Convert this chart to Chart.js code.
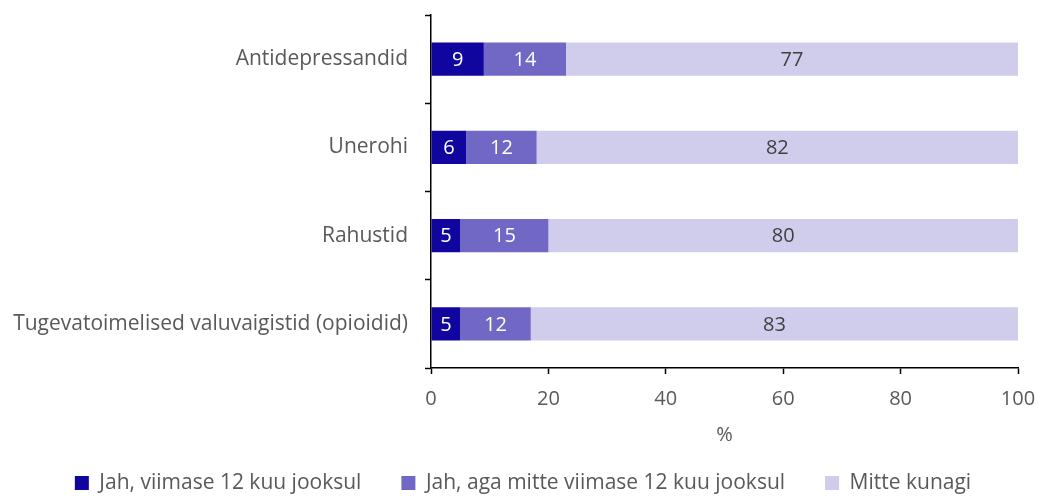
<!DOCTYPE html>
<html>
<head>
<meta charset="utf-8">
<script src="https://cdn.jsdelivr.net/npm/chart.js@4"></script>
<style>
  html, body { margin: 0; padding: 0; background: #fff; }
</style>
</head>
<body>
<canvas id="chart" width="1038" height="496"></canvas>
<script>
const categories = [
  'Antidepressandid',
  'Unerohi',
  'Rahustid',
  'Tugevatoimelised valuvaigistid (opioidid)'
];
const seriesNames = [
  'Jah, viimase 12 kuu jooksul',
  'Jah, aga mitte viimase 12 kuu jooksul',
  'Mitte kunagi'
];
const lastYear = [9, 6, 5, 5];
const notLastYear = [14, 12, 15, 12];
const never = [77, 82, 80, 83];
const xTicks = [0, 20, 40, 60, 80, 100];

const colors = ['#10069f', '#7068c4', '#cfcdeb'];
const labelColors = ['#ffffff', '#ffffff', '#404040'];
const fontFamily = '"Open Sans", sans-serif';
const textColor = '#595959';

// draw the value inside each bar segment
const barLabels = {
  id: 'barLabels',
  afterDatasetsDraw(chart) {
    const ctx = chart.ctx;
    ctx.save();
    ctx.font = '20px ' + fontFamily;
    ctx.textAlign = 'center';
    ctx.textBaseline = 'middle';
    chart.data.datasets.forEach((ds, i) => {
      const meta = chart.getDatasetMeta(i);
      meta.data.forEach((bar, j) => {
        const x = (bar.x + bar.base) / 2;
        ctx.fillStyle = labelColors[i];
        ctx.fillText(ds.data[j], x, bar.y + 1);
      });
    });
    ctx.restore();
  }
};

const datasets = [lastYear, notLastYear, never].map((values, i) => ({
  label: seriesNames[i],
  data: values,
  backgroundColor: colors[i],
  borderWidth: 0,
  barPercentage: 0.375,
  categoryPercentage: 1
}));

new Chart(document.getElementById('chart'), {
  type: 'bar',
  data: { labels: categories, datasets: datasets },
  options: {
    indexAxis: 'y',
    responsive: false,
    animation: false,
    layout: { padding: { top: 15, right: 0, left: 8, bottom: -7.5 } },
    scales: {
      x: {
        stacked: true,
        min: xTicks[0],
        max: xTicks[xTicks.length - 1],
        afterFit(scale) {
          scale.height = 64.5;
          scale.paddingLeft = 0;
          scale.paddingRight = 20;
        },
        afterBuildTicks(scale) {
          scale.ticks = xTicks.map(v => ({ value: v }));
        },
        ticks: {
          color: textColor,
          font: { family: fontFamily, size: 20 },
          padding: 13.5
        },
        grid: {
          drawOnChartArea: false,
          color: '#000',
          tickLength: 6,
          tickWidth: 1.5
        },
        border: { color: '#000', width: 1.5 },
        title: {
          display: true,
          text: '%',
          color: textColor,
          font: { family: fontFamily, size: 20 },
          padding: { top: 0, bottom: -14.5 }
        }
      },
      y: {
        stacked: true,
        afterFit(scale) {
          scale.width = 423;
          scale.paddingTop = 0;
          scale.paddingBottom = 0;
        },
        ticks: {
          color: textColor,
          font: { family: fontFamily, size: 21 },
          padding: 17
        },
        grid: {
          drawOnChartArea: false,
          color: '#000',
          tickLength: 6,
          tickWidth: 1.5,
          offset: true
        },
        border: { color: '#000', width: 1.5 }
      }
    },
    plugins: {
      legend: {
        position: 'bottom',
        labels: {
          color: textColor,
          font: { family: fontFamily, size: 21 },
          boxWidth: 14,
          boxHeight: 14,
          padding: 40
        }
      },
      tooltip: { enabled: false }
    }
  },
  plugins: [barLabels]
});
</script>
</body>
</html>
